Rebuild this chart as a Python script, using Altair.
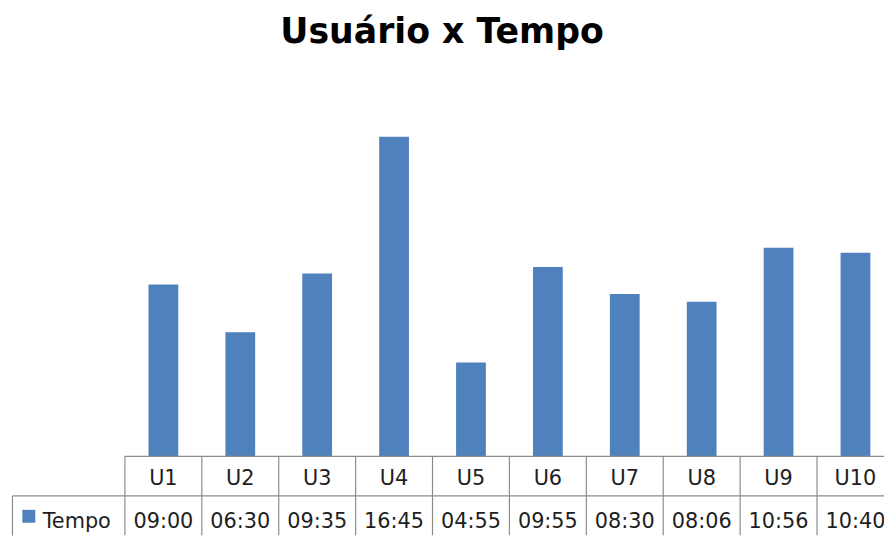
import altair as alt
import pandas as pd

# ---- data ----
users = ["U1", "U2", "U3", "U4", "U5", "U6", "U7", "U8", "U9", "U10"]
times = ["09:00", "06:30", "09:35", "16:45", "04:55", "09:55", "08:30", "08:06", "10:56", "10:40"]
series_name = "Tempo"
title_text = "Usuário x Tempo"

minutes = [int(t.split(":")[0]) * 60 + int(t.split(":")[1]) for t in times]
df = pd.DataFrame({"user": users, "time": times, "minutes": minutes})
one = pd.DataFrame({"k": [0]})

# ---- layout (plot-area pixels) ----
W, H = 884, 530
TABLE_TOP = 450
ROW_MID = 490
X0 = 118
STEP = 77.6
X1 = X0 + 10 * STEP
HDR_X = 4.5
BAR_COLOR = "#4F81BD"
GRID = "#8c8c8c"
TXT = "#1e1e1e"
FONT = "DejaVu Sans"
FS = 21

bar_x = alt.X("user:N", sort=users, axis=None,
              scale=alt.Scale(type="band", domain=users, range=[X0, X1],
                              paddingInner=0.613, paddingOuter=0.3065))
bar_y = alt.Y("minutes:Q", axis=None,
              scale=alt.Scale(domain=[0, 1080], range=[TABLE_TOP, TABLE_TOP - 1080 * 0.321],
                              nice=False, zero=True))
table_scale = alt.Scale(type="band", domain=users, range=[X0, X1],
                        paddingInner=0, paddingOuter=0)

bars = alt.Chart(df).mark_bar(color=BAR_COLOR, clip=True).encode(
    x=bar_x, y=bar_y, tooltip=["user", "time"]
)

vlines = alt.Chart(df).mark_rule(color=GRID, strokeWidth=1.2, clip=True).encode(
    x=alt.X("user:N", sort=users, axis=None, scale=table_scale, bandPosition=0),
    y=alt.value(TABLE_TOP), y2=alt.value(H)
)

hline_top = alt.Chart(one).mark_rule(color=GRID, strokeWidth=1.2).encode(
    x=alt.value(X0), x2=alt.value(W), y=alt.value(TABLE_TOP)
)
hline_mid = alt.Chart(one).mark_rule(color=GRID, strokeWidth=1.2).encode(
    x=alt.value(HDR_X), x2=alt.value(W), y=alt.value(ROW_MID)
)
hdr_left = alt.Chart(one).mark_rule(color=GRID, strokeWidth=1.2).encode(
    x=alt.value(HDR_X), y=alt.value(ROW_MID), y2=alt.value(H)
)

row1 = alt.Chart(df).mark_text(font=FONT, fontSize=FS, color=TXT, baseline="alphabetic",
                               align="center", clip=True).encode(
    x=alt.X("user:N", sort=users, axis=None, scale=table_scale, bandPosition=0.5),
    y=alt.value(479), text="user:N"
)
row2 = alt.Chart(df).mark_text(font=FONT, fontSize=FS, color=TXT, baseline="alphabetic",
                               align="center").encode(
    x=alt.X("user:N", sort=users, axis=None, scale=table_scale, bandPosition=0.5),
    y=alt.value(522), text="time:N"
)

legend_sq = alt.Chart(one).mark_square(color=BAR_COLOR, filled=True, size=170, opacity=1).encode(
    x=alt.value(21), y=alt.value(510.5)
)
legend_txt = alt.Chart(one).mark_text(font=FONT, fontSize=FS, color=TXT, baseline="alphabetic",
                                      align="left").encode(
    x=alt.value(35), y=alt.value(522), text=alt.value(series_name)
)

title = alt.Chart(one).mark_text(font="DejaVu Sans", fontSize=35, fontWeight="bold", color="#000000",
                                 baseline="alphabetic", align="center").encode(
    x=alt.value(438), y=alt.value(33), text=alt.value(title_text)
)

chart = alt.layer(
    bars, vlines, hline_top, hline_mid, hdr_left, row1, row2, legend_sq, legend_txt, title
).resolve_scale(x="independent", y="independent").properties(
    width=W, height=H, padding=0, background="white",
    autosize=alt.AutoSizeParams(type="none")
).configure_view(stroke="transparent", strokeWidth=0)

chart.save("out.html", embed_options={"renderer": "svg", "actions": False})
